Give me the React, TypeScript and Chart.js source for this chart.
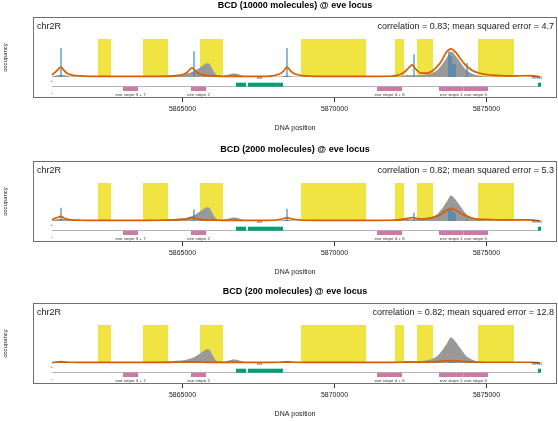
import React, { useEffect, useRef } from 'react';
import { Chart, registerables } from 'chart.js';
Chart.register(...registerables);

const FONT = "'Liberation Sans', Arial, Helvetica, sans-serif";

// ---------- axis ----------
const X_MIN = 5860082;
const X_MAX = 5877319;
const X_TICKS = [5865000, 5870000, 5875000];
const Y_MIN = -0.553;
const Y_MAX = 1.579;
const LOCUS_START = 5860707;
const LOCUS_END = 5876760;
const CHROM = 'chr2R';

// ---------- panels ----------
const TITLES = [
  'BCD (10000 molecules) @ eve locus',
  'BCD (2000 molecules) @ eve locus',
  'BCD (200 molecules) @ eve locus',
];
const STATS = [
  'correlation = 0.83; mean squared error = 4.7',
  'correlation = 0.82; mean squared error = 5.3',
  'correlation = 0.82; mean squared error = 12.8',
];

// ---------- accessible regions (yellow) ----------
const ACCESS_START = [5862220, 5863700, 5865575, 5868898, 5871990, 5872714, 5874720];
const ACCESS_END = [5862648, 5864523, 5866332, 5871036, 5872286, 5873240, 5875904];

// ---------- observed occupancy (gray) ----------
const OBS_POS = [
  5860707, 5860839, 5861003, 5861168, 5861365, 5863931, 5864424, 5864786, 5865082, 5865312,
  5865477, 5865674, 5865806, 5865904, 5866003, 5866135, 5866299, 5866497, 5866694, 5866891,
  5867121, 5868207, 5868437, 5868668, 5872154, 5872385, 5872615, 5872812, 5873076, 5873240,
  5873405, 5873569, 5873701, 5873832, 5873964, 5874128, 5874293, 5874457, 5874655, 5874885,
  5875279, 5876760,
];
const OBS_VAL = [
  0.01, 0.04, 0.06, 0.04, 0.01, 0.01, 0.04, 0.06, 0.08, 0.13,
  0.2, 0.3, 0.36, 0.33, 0.18, 0.05, 0.03, 0.06, 0.09, 0.06,
  0.01, 0.01, 0.04, 0.01, 0.02, 0.05, 0.04, 0.05, 0.08, 0.12,
  0.2, 0.36, 0.52, 0.67, 0.58, 0.4, 0.22, 0.12, 0.05, 0.02,
  0.01, 0.0,
];

// ---------- predicted occupancy (orange) ----------
const PRED_POS = [
  5860707, 5860806, 5860904, 5861003, 5861102, 5861200, 5861365, 5861628, 5862286, 5863273,
  5864260, 5864753, 5864983, 5865148, 5865312, 5865477, 5865707, 5866069, 5866562, 5867549,
  5867944, 5868174, 5868306, 5868437, 5868569, 5868733, 5869029, 5869852, 5870839, 5871826,
  5872089, 5872253, 5872418, 5872549, 5872681, 5872845, 5873010, 5873174, 5873339, 5873503,
  5873668, 5873832, 5873997, 5874161, 5874326, 5874523, 5874720, 5874951, 5875181, 5875444,
  5875937, 5876431, 5876760,
];
const PRED_10000 = [
  0.05, 0.12, 0.2, 0.26, 0.17, 0.1, 0.05, 0.03, 0.015, 0.015,
  0.015, 0.03, 0.06, 0.12, 0.24, 0.12, 0.05, 0.025, 0.015, 0.015,
  0.03, 0.07, 0.14, 0.26, 0.15, 0.07, 0.03, 0.015, 0.015, 0.02,
  0.05, 0.1, 0.22, 0.32, 0.2, 0.1, 0.1, 0.14, 0.24, 0.4,
  0.64, 0.74, 0.64, 0.46, 0.3, 0.18, 0.11, 0.07, 0.05, 0.035,
  0.03, 0.035, 0.0,
];
const PRED_2000 = [
  0.03, 0.07, 0.1, 0.12, 0.08, 0.05, 0.03, 0.02, 0.015, 0.015,
  0.02, 0.03, 0.04, 0.06, 0.09, 0.06, 0.03, 0.02, 0.015, 0.015,
  0.02, 0.04, 0.06, 0.09, 0.06, 0.04, 0.02, 0.015, 0.015, 0.02,
  0.03, 0.05, 0.07, 0.09, 0.07, 0.05, 0.06, 0.08, 0.12, 0.18,
  0.27, 0.33, 0.28, 0.2, 0.13, 0.08, 0.05, 0.04, 0.035, 0.03,
  0.03, 0.03, 0.0,
];
const PRED_200 = [
  0.01, 0.02, 0.025, 0.03, 0.025, 0.02, 0.02, 0.015, 0.015, 0.015,
  0.015, 0.02, 0.02, 0.025, 0.03, 0.025, 0.02, 0.015, 0.015, 0.015,
  0.015, 0.02, 0.025, 0.03, 0.025, 0.02, 0.015, 0.015, 0.015, 0.015,
  0.02, 0.02, 0.025, 0.03, 0.025, 0.02, 0.025, 0.03, 0.035, 0.045,
  0.055, 0.06, 0.055, 0.045, 0.035, 0.03, 0.025, 0.02, 0.02, 0.02,
  0.02, 0.02, 0.0,
];

// ---------- binding sites (blue) ----------
const SITE_POS = [5861003, 5865378, 5868437, 5872615, 5873766, 5873832, 5873898, 5873964, 5874359];
const SITE_10000 = [0.76, 0.68, 0.76, 0.6, 0.68, 0.55, 0.34, 0.34, 0.37];
const SITE_2000 = [0.35, 0.3, 0.32, 0.22, 0.32, 0.38, 0.24, 0.2, 0.05];
const SITE_200 = [0.02, 0.02, 0.02, 0.015, 0.03, 0.03, 0.02, 0.02, 0.01];

// ---------- annotation ----------
const ENH_NAMES = ['eve stripe 3 + 7', 'eve stripe 2', 'eve stripe 4 + 6', 'eve stripe 1', 'eve stripe 5'];
const ENH_START = [5863043, 5865279, 5871398, 5873437, 5874240];
const ENH_END = [5863536, 5865773, 5872220, 5874240, 5875049];
const GENE_NAMES = ['eve', 'TER94'];
const EXON_GENE = [0, 0, 1];
const EXON_START = [5866760, 5867154, 5876694];
const EXON_END = [5867089, 5868306, 5876793];

const PREDS = [PRED_10000, PRED_2000, PRED_200];
const SITES = [SITE_10000, SITE_2000, SITE_200];

const C_YELLOW = '#F0E442';
const C_GRAY = '#999999';
const C_BLUE = '#2f80bb';
const C_ORANGE = '#D55E00';
const C_GREEN = '#009E73';
const C_PINK = '#CC79A7';

const trackPlugin = {
  id: 'track',
  afterDatasetsDraw(chart: any, _args: any, opts: any) {
    const { ctx, chartArea: a, scales } = chart;
    const xs = scales.x;
    const px = (v: number) => xs.getPixelForValue(v);
    const b = a.bottom;
    ctx.save();
    // strand line
    const x0 = px(LOCUS_START);
    const x1 = px(LOCUS_END);
    ctx.strokeStyle = '#b5b5b5';
    ctx.lineWidth = 1;
    ctx.beginPath();
    ctx.moveTo(x0, b - 11.5);
    ctx.lineTo(x1, b - 11.5);
    ctx.stroke();
    ctx.fillStyle = '#333';
    ctx.textAlign = 'center';
    ctx.textBaseline = 'middle';
    ctx.font = `4px ${FONT}`;
    ctx.fillText('+', x0, b - 17);
    ctx.fillText('–', x0, b - 5);
    // exons
    ctx.fillStyle = C_GREEN;
    for (let i = 0; i < EXON_START.length; i++) {
      const s = px(EXON_START[i]);
      const e = px(EXON_END[i]);
      ctx.fillRect(s, b - 15.3, Math.max(e - s, 1), 4);
    }
    // gene labels
    ctx.fillStyle = '#333';
    ctx.font = `3.5px ${FONT}`;
    GENE_NAMES.forEach((name, g) => {
      let lo = Infinity, hi = -Infinity;
      EXON_GENE.forEach((gi, k) => {
        if (gi === g) { lo = Math.min(lo, EXON_START[k]); hi = Math.max(hi, EXON_END[k]); }
      });
      const w = ctx.measureText(name).width;
      let cx = (px(lo) + px(hi)) / 2;
      cx = Math.min(cx, px(hi) + 1 - w / 2);
      ctx.fillText(name, cx, b - 19.5);
    });
    // enhancers
    ctx.font = `4.4px ${FONT}`;
    for (let i = 0; i < ENH_START.length; i++) {
      const s = px(ENH_START[i]);
      const e = px(ENH_END[i]);
      ctx.fillStyle = C_PINK;
      ctx.fillRect(s, b - 11.3, e - s, 4.3);
      ctx.fillStyle = '#333';
      ctx.fillText(ENH_NAMES[i], (s + e) / 2, b - 3);
    }
    // box
    ctx.strokeStyle = '#6e6e6e';
    ctx.lineWidth = 1;
    ctx.strokeRect(a.left + 0.5, a.top + 0.5, a.width - 1, a.height - 1);
    // labels
    ctx.fillStyle = '#1a1a1a';
    ctx.font = `9px ${FONT}`;
    ctx.textAlign = 'left';
    ctx.fillText(CHROM, a.left + 4, a.top + 10);
    ctx.textAlign = 'right';
    ctx.fillText(opts.stat || '', a.right - 3, a.top + 9.5);
    ctx.restore();
  },
};

function Panel({ idx }: { idx: number }) {
  const ref = useRef<HTMLCanvasElement | null>(null);
  useEffect(() => {
    if (!ref.current) return;
    const access: any[] = [];
    ACCESS_START.forEach((s, i) => {
      access.push({ x: s, y: 0 }, { x: s, y: 1 }, { x: ACCESS_END[i], y: 1 }, { x: ACCESS_END[i], y: 0 });
    });
    const obs = OBS_POS.map((p, i) => ({ x: p, y: OBS_VAL[i] }));
    const pred = PRED_POS.map((p, i) => ({ x: p, y: PREDS[idx][i] }));
    const sites: any[] = [];
    SITE_POS.forEach((p, i) => {
      sites.push({ x: p, y: 0 }, { x: p, y: SITES[idx][i] }, { x: p, y: null });
    });
    const chart = new Chart(ref.current, {
      type: 'line',
      data: {
        datasets: [
          { data: pred, borderColor: C_ORANGE, borderWidth: 1.7, pointRadius: 0, fill: false, cubicInterpolationMode: 'monotone' } as any,
          { data: sites, borderColor: C_BLUE, borderWidth: 1.1, pointRadius: 0, fill: false, tension: 0, spanGaps: false } as any,
          { data: obs, borderWidth: 0, borderColor: C_GRAY, backgroundColor: C_GRAY, pointRadius: 0, fill: 'origin', cubicInterpolationMode: 'monotone' } as any,
          { data: access, borderWidth: 0, borderColor: C_YELLOW, backgroundColor: C_YELLOW, pointRadius: 0, fill: 'origin', tension: 0 } as any,
        ],
      },
      options: {
        animation: false,
        responsive: false,
        events: [],
        layout: { padding: { left: 0, right: 1, top: 0, bottom: 0 } },
        plugins: {
          legend: { display: false },
          tooltip: { enabled: false },
          title: {
            display: true,
            text: TITLES[idx],
            fullSize: false,
            color: '#000',
            font: { family: FONT, size: 9, weight: 'bold' },
            padding: { top: 0, bottom: 6.2 },
          },
          track: { stat: STATS[idx] },
        } as any,
        scales: {
          x: {
            type: 'linear',
            min: X_MIN,
            max: X_MAX,
            afterBuildTicks: (s: any) => { s.ticks = X_TICKS.map((v) => ({ value: v })); },
            grid: { display: true, drawOnChartArea: false, drawTicks: true, tickLength: 4, color: '#333' },
            border: { display: false },
            ticks: {
              color: '#222',
              padding: 3,
              maxRotation: 0,
              autoSkip: false,
              font: { family: FONT, size: 7 },
              callback: (v: any) => String(v),
            },
            title: {
              display: true,
              text: 'DNA position',
              color: '#222',
              font: { family: FONT, size: 7 },
              padding: { top: 7.4, bottom: 2.8 },
            },
          },
          y: {
            type: 'linear',
            min: Y_MIN,
            max: Y_MAX,
            grid: { display: false, drawTicks: false },
            border: { display: false },
            ticks: { display: false },
            title: {
              display: true,
              text: 'occupancy',
              color: '#222',
              font: { family: FONT, size: 6 },
              padding: { top: 1.4, bottom: 24.4 },
            },
          },
        },
      } as any,
      plugins: [trackPlugin as any],
    });
    return () => chart.destroy();
  }, [idx]);
  return <canvas ref={ref} width={558} height={135} style={{ width: 558, height: 135, display: 'block' }} />;
}

const TOPS = [0, 144, 286];

export default function App() {
  return (
    <div style={{ position: 'absolute', left: 0, top: 0, width: 558, height: 421, background: '#fff', overflow: 'hidden' }}>
      {TOPS.map((t, i) => (
        <div key={i} style={{ position: 'absolute', left: 0, top: t, width: 558, height: 135 }}>
          <Panel idx={i} />
        </div>
      ))}
    </div>
  );
}
